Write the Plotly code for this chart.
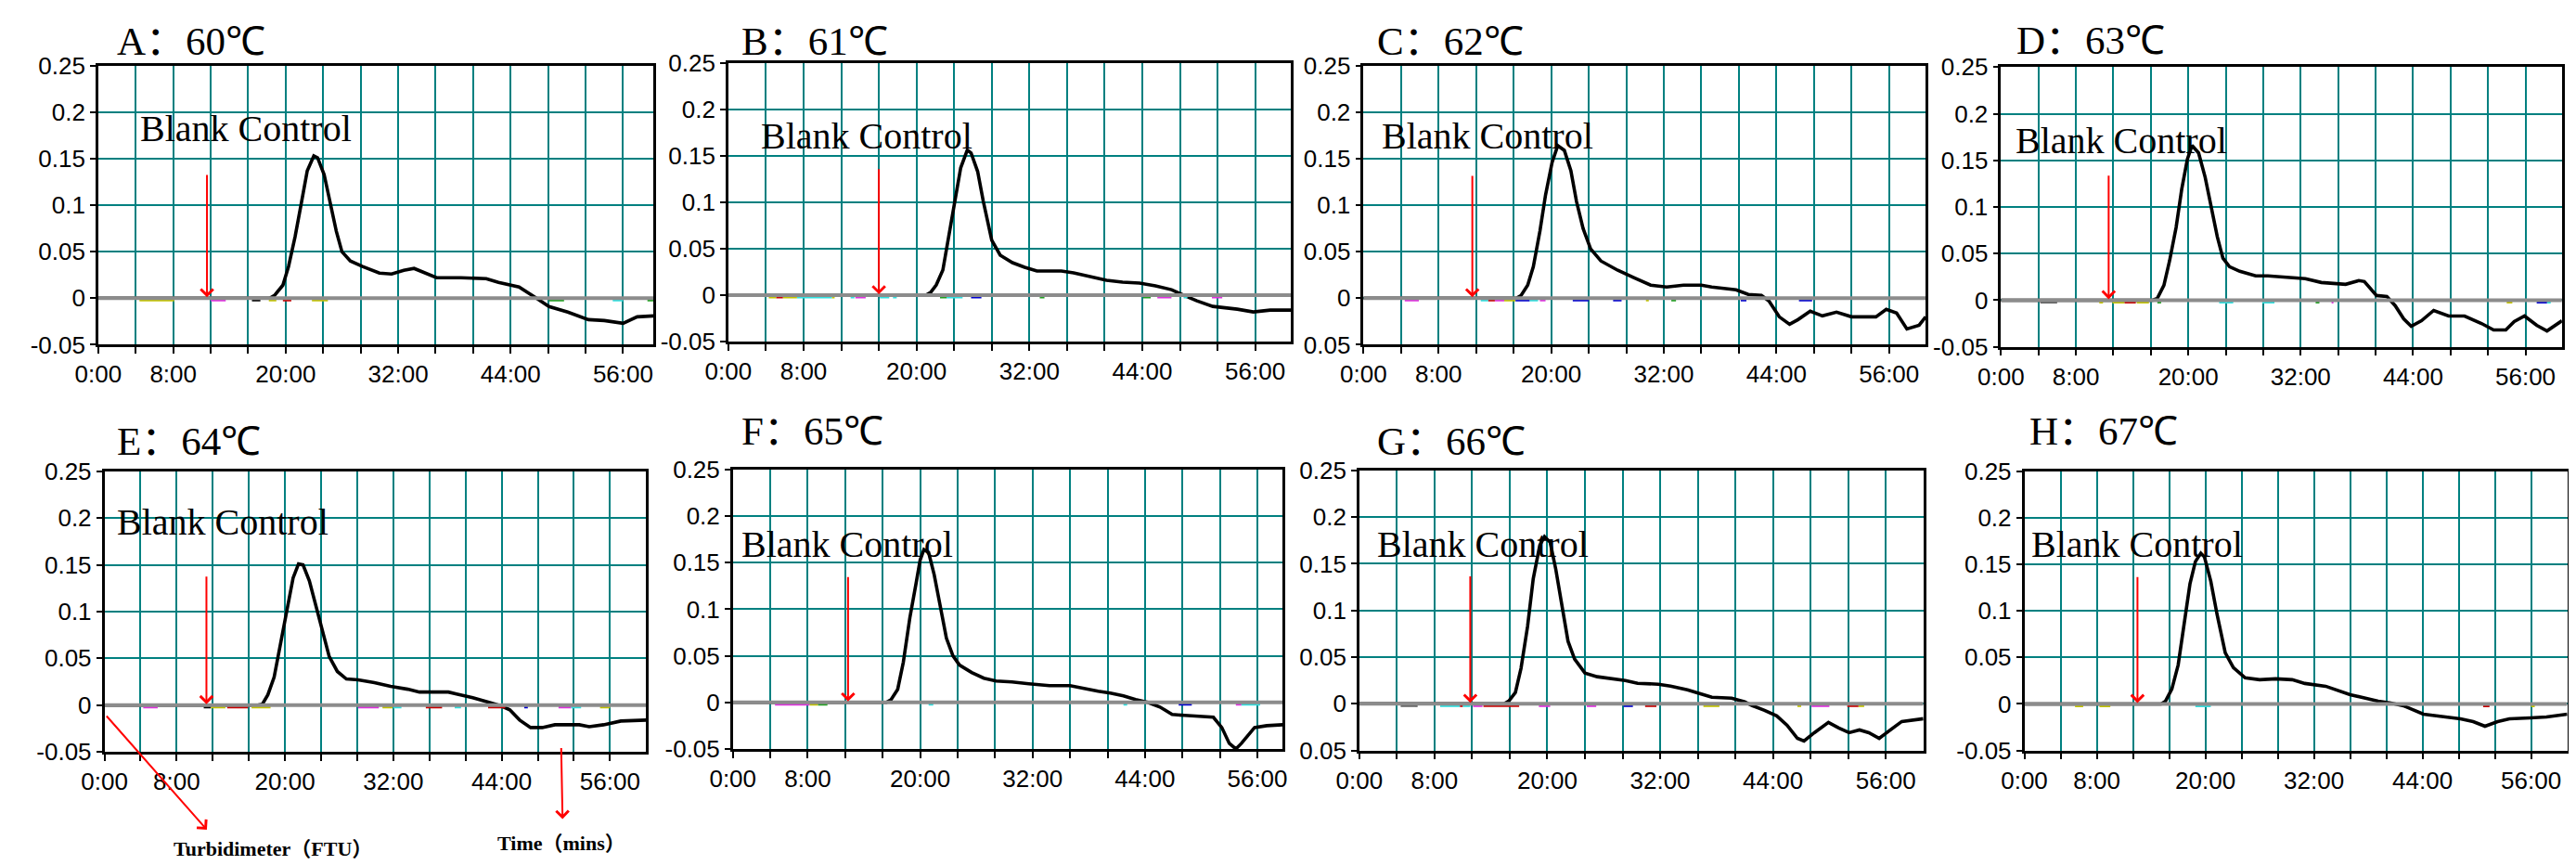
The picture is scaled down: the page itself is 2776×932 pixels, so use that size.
import plotly.graph_objects as go

W, H = 2776, 932

panel_ids = ["A", "B", "C", "D", "E", "F", "G", "H"]
title_letters = ["A", "B", "C", "D", "E", "F", "G", "H"]
title_temps = ["60℃", "61℃", "62℃", "63℃", "64℃", "65℃", "66℃", "67℃"]

x_ticks = [0, 4, 8, 12, 16, 20, 24, 28, 32, 36, 40, 44, 48, 52, 56]
x_labels = ["0:00", "", "8:00", "", "", "20:00", "", "", "32:00", "", "", "44:00", "", "", "56:00"]
y_ticks = [-0.05, 0, 0.05, 0.1, 0.15, 0.2, 0.25]
y_labels = ["-0.05", "0", "0.05", "0.1", "0.15", "0.2", "0.25"]
y_labels_cut = ["0.05", "0", "0.05", "0.1", "0.15", "0.2", "0.25"]  # minus hidden in C and G

# turbidity curves (minutes, FTU)
time_A = [0, 18.3, 18.8, 19.7, 20.3, 21.0, 21.7, 22.3, 23.0, 23.4, 24.1, 24.7, 25.4, 26.0, 26.9, 28.2, 30.0, 31.3, 32.6,
          33.7, 34.8, 36.1, 38.7, 41.4, 42.7, 44.9, 46.6, 48.1, 50.1, 52.3, 54.0, 56.0, 57.5, 59.25]
ftu_A = [0, 0, 0.003, 0.014, 0.034, 0.066, 0.104, 0.137, 0.153, 0.151, 0.133, 0.104, 0.072, 0.050, 0.040, 0.034, 0.027,
         0.026, 0.030, 0.032, 0.027, 0.022, 0.022, 0.021, 0.017, 0.012, 0.001, -0.009, -0.015, -0.023, -0.024, -0.027,
         -0.020, -0.019]
time_B = [0, 21.0, 21.5, 22.1, 22.8, 23.4, 24.1, 24.7, 25.4, 25.8, 26.5, 27.1, 28.0, 28.9, 30.2, 31.5, 32.8, 35.4, 36.7,
          38.4, 40.2, 41.9, 43.7, 45.4, 47.1, 48.4, 49.8, 51.5, 54.1, 55.8, 57.6, 59.8]
ftu_B = [0, 0, 0.003, 0.011, 0.027, 0.063, 0.101, 0.137, 0.156, 0.153, 0.133, 0.101, 0.059, 0.043, 0.035, 0.030, 0.026,
         0.026, 0.024, 0.020, 0.016, 0.014, 0.013, 0.010, 0.006, 0.000, -0.006, -0.012, -0.015, -0.018, -0.016, -0.016]
time_C = [0, 16.3, 16.8, 17.5, 18.1, 18.8, 19.4, 20.1, 20.7, 21.4, 22.1, 22.7, 23.4, 24.2, 25.3, 27.1, 28.8, 30.6, 32.3,
          34.1, 36.0, 37.1, 39.7, 41.0, 42.4, 43.2, 44.3, 45.4, 46.3, 47.6, 48.9, 50.4, 52.0, 54.6, 55.7, 56.8, 57.9,
          59.2, 59.9]
ftu_C = [0, 0, 0.003, 0.014, 0.034, 0.072, 0.111, 0.146, 0.164, 0.159, 0.137, 0.104, 0.075, 0.053, 0.040, 0.030, 0.022,
         0.014, 0.012, 0.014, 0.014, 0.012, 0.009, 0.004, 0.003, -0.003, -0.020, -0.028, -0.023, -0.014, -0.019,
         -0.015, -0.020, -0.020, -0.012, -0.016, -0.033, -0.029, -0.020]
time_D = [0, 16.2, 16.7, 17.4, 18.0, 18.7, 19.3, 19.9, 20.4, 21.1, 21.8, 22.4, 23.1, 23.7, 24.4, 25.5, 27.2, 28.5, 30.7,
          32.5, 34.2, 36.0, 36.8, 38.2, 38.8, 40.1, 41.2, 42.1, 43.0, 43.8, 44.9, 46.2, 47.8, 49.5, 51.3, 52.6, 53.9,
          54.8, 55.9, 57.2, 58.3, 59.9]
ftu_D = [0, 0, 0.002, 0.016, 0.042, 0.078, 0.119, 0.151, 0.166, 0.158, 0.132, 0.103, 0.068, 0.045, 0.036, 0.031, 0.026,
         0.026, 0.024, 0.023, 0.019, 0.017, 0.017, 0.021, 0.020, 0.005, 0.004, -0.006, -0.020, -0.028, -0.022, -0.011,
         -0.017, -0.017, -0.025, -0.032, -0.032, -0.023, -0.017, -0.027, -0.033, -0.022]
time_E = [0, 17.0, 17.5, 18.1, 18.8, 19.5, 20.2, 20.9, 21.5, 22.0, 22.7, 23.4, 24.3, 24.9, 25.8, 26.8, 28.1, 29.9, 31.7,
          33.6, 34.9, 38.1, 39.0, 40.8, 42.6, 44.0, 44.9, 46.0, 47.2, 48.5, 49.9, 52.6, 53.7, 55.3, 57.2, 60.0]
ftu_E = [0, 0, 0.001, 0.011, 0.030, 0.065, 0.104, 0.136, 0.151, 0.150, 0.133, 0.107, 0.075, 0.052, 0.036, 0.028, 0.027,
         0.024, 0.020, 0.017, 0.014, 0.014, 0.012, 0.008, 0.003, -0.001, -0.005, -0.016, -0.024, -0.024, -0.021,
         -0.021, -0.023, -0.021, -0.017, -0.016]
time_F = [0, 16.4, 16.9, 17.6, 18.2, 18.9, 19.6, 20.0, 20.4, 20.9, 21.5, 22.2, 22.8, 23.5, 24.2, 25.5, 26.8, 28.1, 29.8,
          31.6, 33.8, 36.0, 37.3, 39.0, 40.3, 41.7, 43.0, 44.3, 45.6, 46.9, 48.2, 49.5, 51.3, 52.2, 53.0, 53.7, 54.3,
          55.7, 57.0, 58.7]
ftu_F = [0, 0, 0.003, 0.014, 0.043, 0.091, 0.130, 0.153, 0.164, 0.161, 0.137, 0.101, 0.069, 0.050, 0.040, 0.032, 0.026,
         0.023, 0.022, 0.020, 0.018, 0.018, 0.015, 0.012, 0.010, 0.007, 0.003, 0.000, -0.005, -0.013, -0.014, -0.015,
         -0.016, -0.027, -0.044, -0.050, -0.044, -0.027, -0.025, -0.024]
time_G = [0, 15.4, 15.9, 16.6, 17.2, 17.9, 18.5, 19.2, 19.7, 20.3, 20.9, 21.6, 22.2, 22.9, 24.0, 25.3, 27.0, 28.3, 29.6,
          31.8, 33.1, 34.9, 36.2, 37.5, 39.6, 41.0, 41.8, 43.1, 44.4, 45.5, 46.6, 47.3, 48.4, 49.9, 51.0, 52.1, 53.2,
          54.2, 55.3, 56.4, 57.7, 60.0]
ftu_G = [0, 0, 0.003, 0.012, 0.038, 0.083, 0.134, 0.170, 0.179, 0.173, 0.144, 0.102, 0.067, 0.048, 0.033, 0.029, 0.027,
         0.025, 0.022, 0.021, 0.019, 0.015, 0.011, 0.007, 0.006, 0.002, -0.002, -0.007, -0.013, -0.023, -0.037,
         -0.040, -0.031, -0.020, -0.026, -0.031, -0.028, -0.031, -0.037, -0.029, -0.019, -0.016]
time_H = [0, 15.1, 15.6, 16.3, 17.0, 17.6, 18.3, 18.9, 19.5, 19.9, 20.6, 21.3, 22.2, 23.1, 24.4, 26.0, 27.8, 29.6, 31.0,
          33.3, 34.6, 36.0, 37.8, 39.1, 40.5, 41.9, 44.1, 46.4, 48.2, 49.6, 50.9, 52.3, 53.6, 55.9, 57.7, 60.0]
ftu_H = [0, 0, 0.003, 0.016, 0.042, 0.084, 0.129, 0.153, 0.162, 0.158, 0.132, 0.096, 0.055, 0.039, 0.028, 0.026, 0.027,
         0.026, 0.022, 0.019, 0.015, 0.010, 0.006, 0.003, 0.001, -0.002, -0.011, -0.014, -0.016, -0.019, -0.024,
         -0.019, -0.016, -0.015, -0.014, -0.011]

times = [time_A, time_B, time_C, time_D, time_E, time_F, time_G, time_H]
ftus = [ftu_A, ftu_B, ftu_C, ftu_D, ftu_E, ftu_F, ftu_G, ftu_H]

# end of visible time axis per panel (minutes)
x_end = [59.25, 59.8, 59.9, 59.9, 60.0, 58.7, 60.0, 60.0]

# blank control arrow: time, arrow top value
arrow_t = [11.6, 16.0, 11.6, 11.5, 11.3, 12.3, 11.8, 12.5]
arrow_top = [0.134, 0.137, 0.133, 0.135, 0.139, 0.136, 0.138, 0.138]
blank_t = [4.24, 3.26, 1.75, 1.31, 1.13, 0.74, 1.74, 0.59]
blank_y = [0.182, 0.171, 0.174, 0.171, 0.196, 0.170, 0.171, 0.172]

# other channels sitting just under the baseline: (start, end, colour)
dash_A = [(4.4, 8.1, "olive"), (12.0, 13.6, "magenta"), (16.4, 17.3, "black"), (18.2, 19.0, "olive"),
          (19.7, 20.6, "red"), (22.8, 24.5, "olive"), (48.1, 49.7, "green"), (54.9, 56.0, "cyan"),
          (58.6, 59.25, "green")]
dash_B = [(4.3, 5.1, "olive"), (5.1, 5.8, "red"), (5.8, 7.3, "olive"), (7.3, 11.0, "cyan"), (11.0, 11.3, "olive"),
          (13.0, 13.4, "cyan"), (13.5, 14.6, "magenta"), (16.1, 17.1, "cyan"), (17.5, 17.9, "cyan"),
          (22.5, 23.2, "green"), (23.2, 24.9, "cyan"), (25.8, 26.9, "blue"), (33.1, 33.6, "green"),
          (44.1, 44.9, "green"), (45.6, 47.1, "magenta"), (48.4, 48.8, "cyan"), (51.4, 52.5, "magenta")]
dash_C = [(4.4, 5.9, "magenta"), (12.5, 13.3, "cyan"), (13.3, 14.0, "red"), (14.0, 15.0, "magenta"),
          (15.0, 16.2, "olive"), (16.2, 17.7, "blue"), (17.7, 18.6, "cyan"), (18.8, 19.4, "magenta"),
          (22.3, 24.0, "blue"), (26.6, 27.5, "blue"), (30.1, 30.4, "olive"), (32.8, 33.3, "green"),
          (40.2, 40.8, "blue"), (46.4, 47.8, "blue")]
dash_D = [(4.2, 6.0, "gray"), (10.5, 10.9, "olive"), (11.9, 13.2, "olive"), (13.2, 14.4, "red"),
          (14.5, 15.8, "olive"), (16.7, 17.1, "green"), (23.3, 24.8, "cyan"), (27.9, 29.2, "cyan"),
          (33.6, 34.0, "green"), (35.3, 35.5, "magenta"), (54.0, 54.6, "olive"), (57.2, 58.3, "blue"),
          (58.3, 58.7, "cyan")]
dash_E = [(4.3, 5.9, "magenta"), (11.0, 11.8, "black"), (11.8, 13.4, "olive"), (13.6, 15.9, "red"),
          (16.3, 18.4, "olive"), (28.1, 30.4, "magenta"), (30.8, 31.9, "olive"), (32.0, 32.9, "cyan"),
          (35.6, 37.4, "red"), (38.8, 39.5, "cyan"), (42.5, 44.4, "red"), (46.5, 46.9, "blue"),
          (50.3, 51.7, "magenta"), (51.7, 52.8, "cyan"), (54.9, 56.0, "olive")]
dash_F = [(4.5, 8.2, "magenta"), (8.2, 9.1, "olive"), (9.1, 10.1, "green"), (20.9, 21.4, "cyan"),
          (41.7, 42.1, "cyan"), (47.6, 49.0, "blue"), (53.7, 54.3, "magenta"), (54.3, 56.3, "cyan")]
dash_G = [(4.4, 6.2, "gray"), (8.6, 10.7, "cyan"), (10.7, 11.0, "red"), (11.0, 11.8, "cyan"),
          (12.1, 13.1, "magenta"), (13.2, 17.0, "red"), (19.1, 20.3, "magenta"), (24.2, 25.2, "magenta"),
          (28.1, 29.1, "blue"), (30.4, 31.6, "red"), (36.6, 38.3, "olive"), (46.6, 47.0, "olive"),
          (48.1, 50.0, "magenta"), (51.9, 53.1, "red"), (53.1, 53.7, "olive")]
dash_H = [(5.6, 6.5, "olive"), (8.3, 9.5, "olive"), (18.9, 20.6, "cyan"), (50.7, 51.4, "red"), (56.0, 56.4, "olive")]
dashes = [dash_A, dash_B, dash_C, dash_D, dash_E, dash_F, dash_G, dash_H]

dash_colours = {"olive": "#c4c400", "magenta": "#e030e0", "cyan": "#30e0e0", "red": "#c80000",
                "green": "#20a020", "blue": "#0000d0", "black": "#000000", "gray": "#606060"}

# plot boxes in pixels: left, right, top, bottom
boxes = [(73.7, 678.6, 49.3, 360), (760.1, 1373, 46, 356.7), (1452, 2064.5, 49.3, 360), (2146.5, 2757.7, 51, 362.3),
         (80.4, 670.5, 501, 813.3), (765, 1364, 499, 810), (1447.5, 2062, 500, 811.7), (2172, 2763.5, 501, 811.7)]
title_pos = [(92, 18), (772.6, 18), (1465, 18), (2161, 17), (91.5, 463), (772.6, 452), (1465, 463), (2176, 452)]

TEAL = "#008080"
SERIF = "Liberation Serif, Times New Roman, serif"
SANS = "Liberation Sans, Arial, sans-serif"


def cjk(s):
    # full-width punctuation set in a CJK face so it keeps its full width
    return "<span style=\"font-family:'Noto Sans CJK SC'\">" + s + "</span>"


fig = go.Figure()
annotations = []
layout = {}

for i, pid in enumerate(panel_ids):
    n = "" if i == 0 else str(i + 1)
    xa, ya = "x" + n, "y" + n
    left, right, top, bottom = boxes[i]

    # sample curve (flat part is hidden under the baseline)
    fig.add_trace(go.Scatter(x=times[i], y=ftus[i], mode="lines", xaxis=xa, yaxis=ya, showlegend=False,
                             line=dict(color="black", width=3.6), name=pid))

    # other channels, grouped per colour
    groups = {}
    for t0, t1, c in dashes[i]:
        xs, ys = groups.setdefault(c, ([], []))
        xs += [t0, t1, None]
        ys += [-0.002, -0.002, None]
    for c, (xs, ys) in groups.items():
        fig.add_trace(go.Scatter(x=xs, y=ys, mode="lines", xaxis=xa, yaxis=ya, showlegend=False,
                                 line=dict(color=dash_colours[c], width=3), hoverinfo="skip"))

    # baseline
    fig.add_trace(go.Scatter(x=[0, x_end[i]], y=[0, 0], mode="lines", xaxis=xa, yaxis=ya, showlegend=False,
                             line=dict(color="#8c8c8c", width=4), hoverinfo="skip"))

    layout["xaxis" + n] = dict(
        domain=[left / W, right / W], anchor=ya, range=[0, x_end[i]],
        tickmode="array", tickvals=x_ticks, ticktext=x_labels,
        showgrid=True, gridcolor=TEAL, gridwidth=2,
        showline=True, linecolor="black", linewidth=2.5, mirror=True,
        ticks="outside", ticklen=7, tickwidth=2, tickcolor="black",
        tickfont=dict(family=SANS, size=26, color="black"), zeroline=False)
    layout["yaxis" + n] = dict(
        domain=[1 - bottom / H, 1 - top / H], anchor=xa, range=[-0.05, 0.25],
        tickmode="array", tickvals=y_ticks, ticktext=y_labels_cut if pid in ("C", "G") else y_labels,
        showgrid=True, gridcolor=TEAL, gridwidth=2,
        showline=True, linecolor="black", linewidth=2.5, mirror=True,
        ticks="outside", ticklen=6, tickwidth=2, tickcolor="black",
        tickfont=dict(family=SANS, size=26, color="black"), zeroline=False)

    tx, ty = title_pos[i]
    annotations.append(dict(xref="paper", yref="paper", x=tx / W, y=1 - ty / H, xanchor="left", yanchor="middle",
                            text=title_letters[i] + cjk("：") + title_temps[i], showarrow=False,
                            font=dict(family=SERIF, size=43, color="black")))
    annotations.append(dict(xref=xa, yref=ya, x=blank_t[i], y=blank_y[i], xanchor="left", yanchor="middle",
                            text="Blank Control", showarrow=False, font=dict(family=SERIF, size=40, color="black")))
    annotations.append(dict(xref=xa, yref=ya, x=arrow_t[i], y=0.001, axref=xa, ayref=ya,
                            ax=arrow_t[i], ay=arrow_top[i], text="", showarrow=True,
                            arrowhead=4, arrowsize=1.3, arrowwidth=2, arrowcolor="#ff0000", standoff=0))

# axis call-outs under panel E
annotations.append(dict(xref="paper", yref="paper", x=192 / W, y=1 - 900 / H, ax=82.6 - 192, ay=776 - 900,
                        text="", showarrow=True, arrowhead=4, arrowsize=1.3, arrowwidth=2,
                        arrowcolor="#ff0000", standoff=0))
annotations.append(dict(xref="paper", yref="paper", x=579.5 / W, y=1 - 888 / H, ax=-1.5, ay=810 - 888,
                        text="", showarrow=True, arrowhead=4, arrowsize=1.3, arrowwidth=2,
                        arrowcolor="#ff0000", standoff=0))
annotations.append(dict(xref="paper", yref="paper", x=264 / W, y=1 - 919 / H, xanchor="center", yanchor="middle",
                        text="<b>Turbidimeter" + cjk("（") + "FTU" + cjk("）") + "</b>", showarrow=False,
                        font=dict(family=SERIF, size=22, color="black")))
annotations.append(dict(xref="paper", yref="paper", x=578 / W, y=1 - 912 / H, xanchor="center", yanchor="middle",
                        text="<b>Time" + cjk("（") + "mins" + cjk("）") + "</b>", showarrow=False,
                        font=dict(family=SERIF, size=22, color="black")))

fig.update_layout(layout)
fig.update_layout(width=W, height=H, autosize=False, margin=dict(l=0, r=0, t=0, b=0),
                  paper_bgcolor="white", plot_bgcolor="white", annotations=annotations, showlegend=False)

fig.write_html("out.html")
